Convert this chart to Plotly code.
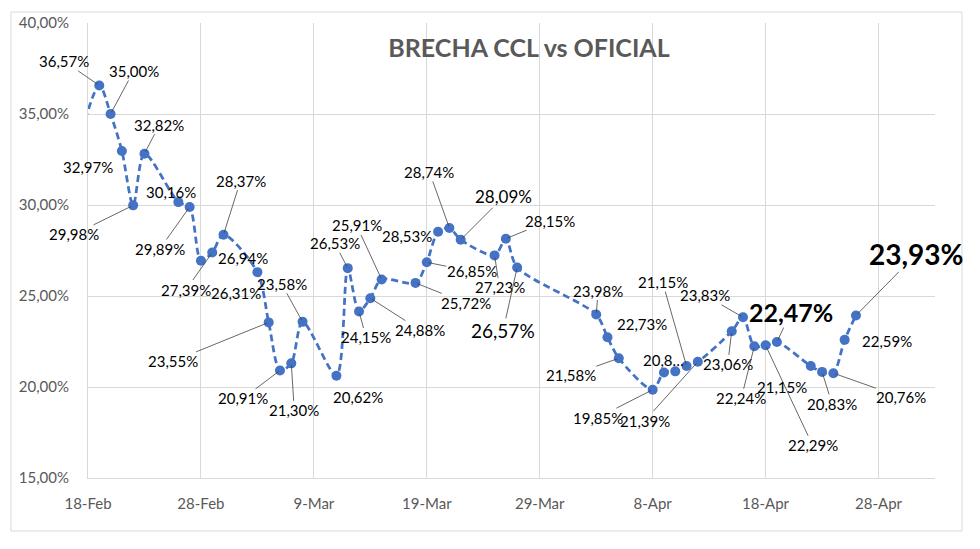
import plotly.graph_objects as go

# ---- data ----
dates = ["2024-02-16", "2024-02-19", "2024-02-20", "2024-02-21", "2024-02-22", "2024-02-23",
         "2024-02-26", "2024-02-27", "2024-02-28", "2024-02-29", "2024-03-01",
         "2024-03-04", "2024-03-05", "2024-03-06", "2024-03-07", "2024-03-08",
         "2024-03-11", "2024-03-12", "2024-03-13", "2024-03-14", "2024-03-15",
         "2024-03-18", "2024-03-19", "2024-03-20", "2024-03-21", "2024-03-22",
         "2024-03-25", "2024-03-26", "2024-03-27",
         "2024-04-03", "2024-04-04", "2024-04-05",
         "2024-04-08", "2024-04-09", "2024-04-10", "2024-04-11", "2024-04-12",
         "2024-04-15", "2024-04-16", "2024-04-17", "2024-04-18", "2024-04-19",
         "2024-04-22", "2024-04-23", "2024-04-24", "2024-04-25", "2024-04-26"]
brecha = [30.6, 36.57, 35.00, 32.97, 29.98, 32.82,
          30.16, 29.89, 26.94, 27.39, 28.37,
          26.31, 23.55, 20.91, 21.30, 23.58,
          20.62, 26.53, 24.15, 24.88, 25.91,
          25.72, 26.85, 28.53, 28.74, 28.09,
          27.23, 28.15, 26.57,
          23.98, 22.73, 21.58,
          19.85, 20.80, 20.86, 21.15, 21.39,
          23.06, 23.83, 22.24, 22.29, 22.47,
          21.15, 20.83, 20.76, 22.59, 23.93]
labels = [None, "36,57%", "35,00%", "32,97%", "29,98%", "32,82%",
          "30,16%", "29,89%", "26,94%", "27,39%", "28,37%",
          "26,31%", "23,55%", "20,91%", "21,30%", "23,58%",
          "20,62%", "26,53%", "24,15%", "24,88%", "25,91%",
          "25,72%", "26,85%", "28,53%", "28,74%", "28,09%",
          "27,23%", "28,15%", "26,57%",
          "23,98%", "22,73%", "21,58%",
          "19,85%", "20,8…", None, "21,15%", "21,39%",
          "23,06%", "23,83%", "22,24%", "22,29%", "22,47%",
          "21,15%", "20,83%", "20,76%", "22,59%", "23,93%"]
y_ticks = [15, 20, 25, 30, 35, 40]
y_tick_text = ["15,00%", "20,00%", "25,00%", "30,00%", "35,00%", "40,00%"]

# ---- label placement (pixel offsets from point to label centre, leader flag, font size, bold) ----
label_style = [None, (-35, -24, 1, 15, 0), (23, -43, 1, 15, 0), (-34, 16, 0, 15, 0), (-59, 29, 1, 15, 0), (15, -29, 1, 15, 0),
               (-7, -10, 0, 15, 0), (-30, 42, 1, 15, 0), (42, -3, 0, 15, 0), (-26, 37, 1, 15, 0), (17, -54, 1, 15, 0),
               (-21, 21, 0, 15, 0), (-96, 39, 1, 15, 0), (-37, 28, 1, 15, 0), (3, 47, 1, 15, 0), (-21, -38, 1, 15, 0),
               (22, 21, 0, 15, 0), (-13, -25, 1, 15, 0), (7, 26, 1, 15, 0), (50, 32, 1, 15, 0), (-25, -54, 1, 15, 0),
               (50, 20, 1, 15, 0), (45, 9, 1, 15, 0), (-31, 4, 0, 15, 0), (-20, -56, 1, 15, 0), (43, -43, 1, 17, 0),
               (5, 32, 1, 15, 0), (44, -18, 1, 15, 0), (-14, 63, 1, 19, 0),
               (2, -24, 1, 15, 0), (35, -13, 0, 15, 0), (-48, 17, 1, 15, 0),
               (-55, 28, 1, 15, 0), (0, -12, 0, 15, 0), None, (-24, -84, 1, 15, 0), (-53, 59, 1, 15, 0),
               (-4, 33, 1, 15, 0), (-38, -22, 1, 15, 0), (-13, 52, 1, 15, 0), (47, 100, 1, 15, 0), (14, -30, 1, 25, 1),
               (-29, 21, 0, 15, 0), (10, 32, 1, 15, 0), (68, 24, 1, 15, 0), (42, 1, 0, 15, 0), (60, -61, 1, 28, 1)]

BLUE = "#4472C4"
FONT = "Lato, Carlito, 'Liberation Sans', sans-serif"

fig = go.Figure()
fig.add_trace(go.Scatter(
    x=dates, y=brecha, mode="lines+markers",
    line=dict(color=BLUE, width=2.75, dash="7px,4px", shape="spline", smoothing=0.8),
    marker=dict(color=BLUE, size=10),
    hoverinfo="skip", showlegend=False,
))

annotations = []
for d, v, lab, st in zip(dates, brecha, labels, label_style):
    if lab is None or st is None:
        continue
    dx, dy, leader, fs, bold = st
    txt = f"<b>{lab}</b>" if bold else lab
    font = dict(family=FONT, size=fs, color="#000000")
    if leader:
        annotations.append(dict(x=d, y=v, xref="x", yref="y", text=txt, font=font,
                                showarrow=True, arrowhead=0, arrowwidth=0.8, arrowcolor="#404040",
                                ax=dx, ay=dy, standoff=2, borderpad=0))
    else:
        annotations.append(dict(x=d, y=v, xref="x", yref="y", text=txt, font=font,
                                showarrow=False, xshift=dx, yshift=-dy, borderpad=0))

# outer chart border
fig.add_shape(type="rect", xref="paper", yref="paper",
              x0=-77/847, x1=(962-88)/847, y0=(478-531)/455, y1=(478-12)/455,
              line=dict(color="#D9D9D9", width=1), layer="below")

fig.update_layout(
    width=980, height=549,
    margin=dict(l=88, r=45, t=23, b=71),
    paper_bgcolor="white", plot_bgcolor="white",
    font=dict(family=FONT, color="#595959"),
    title=dict(text="<b>BRECHA CCL vs OFICIAL</b>", x=529/980, xanchor="center",
               y=1 - 48/549, yanchor="middle",
               font=dict(family=FONT, size=25, color="#595959")),
    annotations=annotations,
    xaxis=dict(type="date", range=["2024-02-18", "2024-05-03"],
               tick0="2024-02-18", dtick=10 * 86400000, tickformat="%-d-%b",
               showgrid=True, gridcolor="#D9D9D9", gridwidth=1,
               showline=True, linecolor="#D9D9D9", linewidth=1,
               ticks="", ticklabelstandoff=12,
               tickfont=dict(family=FONT, size=15, color="#595959"),
               zeroline=False),
    yaxis=dict(range=[15, 40], tickvals=y_ticks, ticktext=y_tick_text,
               showgrid=True, gridcolor="#D9D9D9", gridwidth=1,
               showline=True, linecolor="#D9D9D9", linewidth=1,
               ticks="", ticklabelstandoff=15,
               tickfont=dict(family=FONT, size=15, color="#595959"),
               zeroline=False),
)

fig.write_html("out.html")
